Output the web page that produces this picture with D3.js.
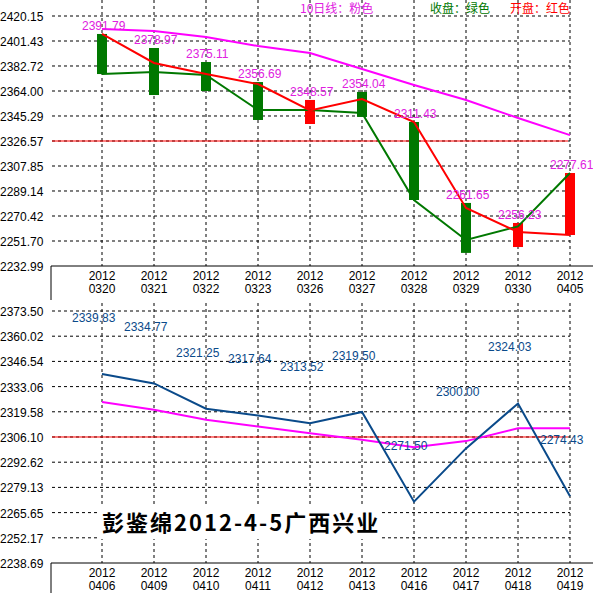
<!DOCTYPE html>
<html><head><meta charset="utf-8">
<script src="https://cdn.jsdelivr.net/npm/d3@7"></script>
<style>body{margin:0;background:#fff}text{font-family:Arial,"Liberation Sans",sans-serif}</style>
</head><body>
<script>
// top panel data
var dates1 = ["0320","0321","0322","0323","0326","0327","0328","0329","0330","0405"];
var open1  = [2406.7,2385.0,2376.7,2369.2,2349.4,2358.0,2340.8,2276.4,2258.4,2256.2];
var close1 = [2376.7,2378.2,2376.0,2349.8,2349.8,2347.5,2282.4,2252.5,2262.6,2302.6];
var high1  = [2406.7,2396.2,2385.7,2370.7,2357.3,2363.3,2340.8,2280.2,2265.2,2302.6];
var low1   = [2376.7,2361.0,2364.0,2342.3,2339.3,2344.6,2282.4,2242.8,2247.2,2256.2];
var ma1    = [2410.4,2408.9,2404.4,2397.7,2392.5,2380.5,2368.5,2357.3,2343.8,2331.0];
var labels1 = ["2391.79","2378.97","2375.11","2356.69","2348.57","2354.04","2311.43","2261.65","2256.23","2277.61"];
var ticks1 = ["2420.15","2401.43","2382.72","2364.00","2345.29","2326.57","2307.85","2289.14","2270.42","2251.70","2232.99"];
// bottom panel data
var dates2 = ["0406","0409","0410","0411","0412","0413","0416","0417","0418","0419"];
var close2 = [2339.83,2334.77,2321.25,2317.64,2313.52,2319.50,2271.50,2300.00,2324.03,2274.43];
var ma2    = [2324.8,2320.7,2315.3,2311.7,2308.1,2304.6,2300.6,2303.9,2310.8,2310.8];
var ticks2 = ["2373.50","2360.02","2346.54","2333.06","2319.58","2306.10","2292.62","2279.13","2265.65","2252.17","2238.69"];

var svg = d3.select("body").append("svg").attr("width",593).attr("height",593);

function panel(top, bottom, dates, ticks, refLine) {
  var g = svg.append("g");
  var x = d3.scalePoint().domain(dates).range([102,570]);
  var y = d3.scaleLinear().domain([+ticks[ticks.length-1], +ticks[0]]).range([bottom, top]);
  ticks.forEach(function(t, i) {
    if (i < ticks.length-1)
      g.append("line").attr("x1",52).attr("x2",570).attr("y1",y(+t)).attr("y2",y(+t))
        .attr("stroke","#000").attr("stroke-dasharray","3,3");
    g.append("text").attr("x",0).attr("y",y(+t)+5).attr("font-size",12).text(t);
  });
  dates.forEach(function(d) {
    g.append("line").attr("x1",x(d)).attr("x2",x(d)).attr("y1",top-(top<20?16:8)).attr("y2",bottom)
      .attr("stroke","#000").attr("stroke-dasharray","3,3");
    g.append("text").attr("x",x(d)).attr("y",bottom+14).attr("text-anchor","middle").attr("font-size",12).text("2012");
    g.append("text").attr("x",x(d)).attr("y",bottom+27).attr("text-anchor","middle").attr("font-size",12).text(d);
  });
  g.append("line").attr("x1",51).attr("x2",593).attr("y1",bottom).attr("y2",bottom).attr("stroke","#000");
  g.append("line").attr("x1",51).attr("x2",51).attr("y1",bottom).attr("y2",bottom+34).attr("stroke","#000");
  g.append("line").attr("x1",52).attr("x2",568).attr("y1",y(refLine)).attr("y2",y(refLine)).attr("stroke","#f00");
  return {g:g, x:x, y:y};
}

var line = function(p, vals, dates) {
  return d3.line().x(function(d,i){ return p.x(dates[i]); }).y(function(d){ return p.y(d); })(vals);
};

// top panel
var p1 = panel(16, 266, dates1, ticks1, 2326.57);
p1.g.append("path").attr("d", line(p1, ma1, dates1)).attr("fill","none").attr("stroke","#f0f").attr("stroke-width",2);
p1.g.selectAll("rect.c").data(dates1).enter().append("rect")
  .attr("x", function(d){ return p1.x(d)-5; }).attr("width",10)
  .attr("y", function(d,i){ return p1.y(high1[i]); })
  .attr("height", function(d,i){ return p1.y(low1[i]) - p1.y(high1[i]); })
  .attr("fill", function(d,i){ return close1[i] < open1[i] ? "#007800" : "#f00"; });
p1.g.append("path").attr("d", line(p1, close1, dates1)).attr("fill","none").attr("stroke","#007800").attr("stroke-width",2);
p1.g.append("path").attr("d", line(p1, open1, dates1)).attr("fill","none").attr("stroke","#f00").attr("stroke-width",2);
dates1.forEach(function(d,i){
  p1.g.append("text").attr("x",p1.x(d)-20).attr("y",p1.y(high1[i])-4).attr("font-size",12)
    .attr("fill","#e020e0").text(labels1[i]);
});
[["10日线：粉色","#e020e0",300],["收盘：绿色","#007800",430],["开盘：红色","#f00",510]].forEach(function(l){
  svg.append("text").attr("x",l[2]).attr("y",13).attr("font-size",12).attr("fill",l[1])
    .style("font-family","'Noto Sans CJK SC',sans-serif").text(l[0]);
});

// bottom panel
var p2 = panel(311, 563, dates2, ticks2, 2306.10);
p2.g.append("path").attr("d", line(p2, ma2, dates2)).attr("fill","none").attr("stroke","#f0f").attr("stroke-width",2);
p2.g.append("path").attr("d", line(p2, close2, dates2)).attr("fill","none").attr("stroke","#0a4a8a").attr("stroke-width",2);
dates2.forEach(function(d,i){
  p2.g.append("text").attr("x",p2.x(d)-30).attr("y",p2.y(close2[i])-52).attr("font-size",12)
    .attr("fill","#0a4a8a").text(close2[i].toFixed(2));
});
svg.append("rect").attr("x",100).attr("y",505).attr("width",280).attr("height",34).attr("fill","#fff");
svg.append("text").attr("x",102).attr("y",531).attr("font-size",22).attr("font-weight","bold")
  .attr("letter-spacing",2).style("font-family","'Noto Sans CJK SC',serif").text("彭鉴绵2012-4-5广西兴业");
</script>
</body></html>
